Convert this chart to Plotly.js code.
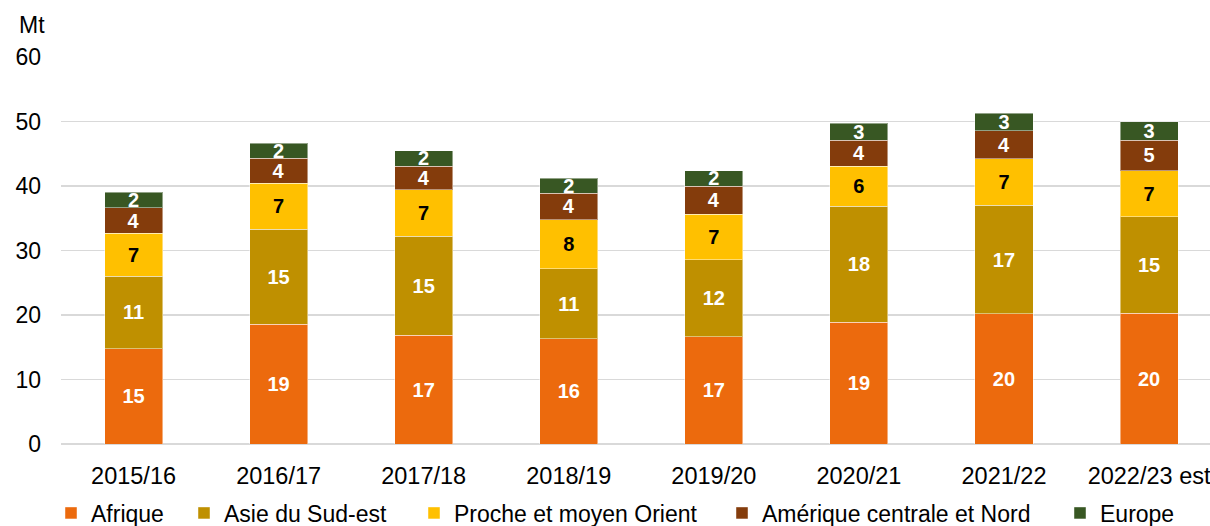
<!DOCTYPE html>
<html>
<head>
<meta charset="utf-8">
<script src="https://cdn.plot.ly/plotly-3.0.1.min.js"></script>
<style>
  html, body { margin: 0; padding: 0; background: #fff; }
  #chart { width: 1210px; height: 526px; }
</style>
</head>
<body>
<div id="chart"></div>
<script>
// Campaigns (x categories)
var campaigns = ["2015/16", "2016/17", "2017/18", "2018/19", "2019/20", "2020/21", "2021/22", "2022/23 est"];

// Series values (Mt)
var afrique   = [14.8, 18.6, 16.9, 16.3, 16.6, 18.9, 20.2, 20.3];
var asieSudEst = [11.2, 14.7, 15.3, 10.9, 12.0, 18.0, 16.8, 14.9];
var procheMoyenOrient = [6.7, 7.1, 7.2, 7.6, 7.0, 6.2, 7.2, 7.2];
var ameriqueCentraleNord = [3.9, 3.9, 3.7, 4.1, 4.4, 4.0, 4.4, 4.7];
var europe = [2.4, 2.3, 2.4, 2.3, 2.4, 2.6, 2.7, 2.9];

// Series names
var seriesNames = ["Afrique", "Asie du Sud-est", "Proche et moyen Orient", "Amérique centrale et Nord", "Europe"];
var yTickVals = [0, 10, 20, 30, 40, 50, 60];
var yUnit = "Mt";

var colors = ["#EC6A0D", "#BF9000", "#FFC000", "#843C0C", "#385723"];
var labelColors = ["#ffffff", "#ffffff", "#000000", "#ffffff", "#ffffff"];
var seriesData = [afrique, asieSudEst, procheMoyenOrient, ameriqueCentraleNord, europe];
var legendIds = ["legend", "legend2", "legend3", "legend4", "legend5"];
var FONT = "Liberation Sans, Arial, sans-serif";

var traces = seriesData.map(function (vals, i) {
  return {
    type: "bar",
    name: seriesNames[i],
    x: campaigns,
    y: vals,
    legend: legendIds[i],
    marker: { color: colors[i], line: { color: "rgba(255,255,255,0.45)", width: 1 } },
    texttemplate: "%{y:.0f}",
    textposition: "inside",
    insidetextanchor: "middle",
    textangle: 0,
    textfont: { family: FONT, size: 20, color: labelColors[i], weight: "bold" },
    hoverinfo: "skip"
  };
});

// legend text start positions (px) in the reference
var legendTextX = [89, 222, 452, 760, 1098];
var layout = {
  width: 1210,
  height: 526,
  barmode: "stack",
  bargap: 0.6,
  paper_bgcolor: "#ffffff",
  plot_bgcolor: "#ffffff",
  margin: { l: 61, r: 0, t: 57, b: 82, pad: 0 },
  font: { family: FONT, size: 23, color: "#000000" },
  xaxis: {
    type: "category",
    range: [-0.5, 7.42],
    showgrid: false,
    zeroline: false,
    showline: false,
    ticks: "",
    ticklabelstandoff: 15,
    tickfont: { family: FONT, size: 23.5, color: "#000000" },
    fixedrange: true
  },
  yaxis: {
    range: [0, 60],
    tickvals: yTickVals,
    showgrid: true,
    gridcolor: "#d9d9d9",
    gridwidth: 1.5,
    zeroline: true,
    zerolinecolor: "#d9d9d9",
    zerolinewidth: 1.5,
    showline: false,
    ticks: "",
    ticklabelstandoff: 19,
    tickfont: { family: FONT, size: 23, color: "#000000" },
    fixedrange: true
  },
  uniformtext: { minsize: 20, mode: "show" },
  annotations: [{
    text: yUnit,
    xref: "paper", yref: "paper",
    x: -44 / 1149, y: 1.0 + 32 / 387,
    xanchor: "left", yanchor: "middle",
    showarrow: false,
    font: { family: FONT, size: 23, color: "#000000" }
  }],
  showlegend: true
};

legendIds.forEach(function (id, i) {
  layout[id] = {
    orientation: "h",
    xref: "container", yref: "container",
    x: (legendTextX[i] - 38) / 1210,
    y: 1 - 513 / 526,
    xanchor: "left", yanchor: "middle",
    bgcolor: "rgba(0,0,0,0)",
    borderwidth: 0,
    itemwidth: 30,
    font: { family: FONT, size: 23, color: "#000000" }
  };
});

Plotly.newPlot("chart", traces, layout, { displayModeBar: false, staticPlot: true });
</script>
</body>
</html>
